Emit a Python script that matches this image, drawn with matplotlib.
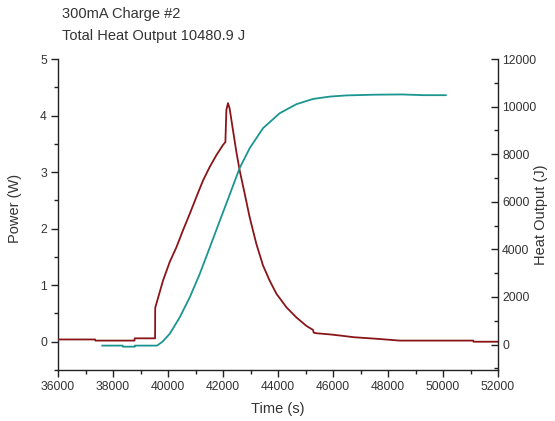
import matplotlib
matplotlib.use("Agg")
import matplotlib.pyplot as plt
from matplotlib.ticker import MultipleLocator

plt.rcParams['font.family'] = ['Liberation Sans', 'DejaVu Sans']

# Power curve (W) vs time (s)
power_t = [36000, 37350, 37360, 38780, 38790, 39530, 39535, 39647, 39818, 40062, 40305,
           40545, 40789, 41032, 41272, 41516, 41760, 42000, 42087, 42123, 42181,
           42243, 42363, 42485, 42606, 42788, 42970, 43213, 43454, 43697, 43941,
           44305, 44668, 45032, 45272, 45300, 45396, 45880, 46250, 46750, 47650,
           48420, 49190, 50000, 51100, 51110, 52000]
power_w = [0.04, 0.04, 0.02, 0.02, 0.06, 0.06, 0.60, 0.79, 1.08, 1.41, 1.67,
           1.97, 2.26, 2.56, 2.85, 3.09, 3.30, 3.48, 3.53, 4.10, 4.22,
           4.12, 3.74, 3.36, 3.03, 2.62, 2.20, 1.73, 1.35, 1.08, 0.85,
           0.61, 0.43, 0.28, 0.21, 0.16, 0.15, 0.13, 0.11, 0.08, 0.05,
           0.02, 0.02, 0.02, 0.02, 0.0, 0.0]

# Heat output (J) vs time (s)
heat_t = [37610, 38350, 38360, 38790, 38800, 39600, 39800, 40062, 40425, 40789, 41152,
          41516, 41880, 42243, 42606, 42970, 43454, 44060, 44668, 45272, 45880,
          46500, 47500, 48500, 49300, 50100]
heat_j = [-45, -45, -90, -90, -45, -45, 120, 450, 1140, 1980, 2960,
          4070, 5190, 6300, 7420, 8250, 9090, 9720, 10100, 10320, 10420,
          10470, 10500, 10510, 10480, 10480]

title_lines = ["300mA Charge #2", "Total Heat Output 10480.9 J"]
x_ticks = [36000, 38000, 40000, 42000, 44000, 46000, 48000, 50000, 52000]
left_ticks = [0, 1, 2, 3, 4, 5]
right_ticks = [0, 2000, 4000, 6000, 8000, 10000, 12000]

red = '#8a1519'
teal = '#1b9590'
txt = '#333333'

fig = plt.figure(figsize=(5.55, 4.21), dpi=100)
ax = fig.add_axes([58/555, 51/421, (498-58)/555, (370-59)/421])
ax2 = ax.twinx()

ax.plot(power_t, power_w, color=red, lw=1.3, zorder=3)
ax2.plot(heat_t, heat_j, color=teal, lw=1.3, zorder=2)

ax.set_xlim(36000, 52000)
ax.set_ylim(-0.5, 5)
ax2.set_ylim(-1070, 12000)

ax.set_xticks(x_ticks)
ax.set_xticklabels([str(v) for v in x_ticks])
ax.xaxis.set_minor_locator(MultipleLocator(1000))
ax.set_yticks(left_ticks)
ax.yaxis.set_minor_locator(MultipleLocator(0.5))
ax2.set_yticks(right_ticks)
ax2.yaxis.set_minor_locator(MultipleLocator(1000))

for a in (ax, ax2):
    a.spines['top'].set_visible(False)
    for s in a.spines.values():
        s.set_color('#222222')
        s.set_linewidth(1.0)
ax.spines['right'].set_visible(False)
ax2.spines['left'].set_visible(False)
ax2.spines['bottom'].set_visible(False)

ax.tick_params(axis='both', which='major', direction='out', length=5, width=1,
               labelsize=8.7, colors='#222222', labelcolor=txt, pad=3)
ax.tick_params(axis='both', which='minor', direction='out', length=3, width=1, colors='#222222')
ax2.tick_params(axis='y', which='major', direction='in', length=5, width=1,
                labelsize=8.7, colors='#222222', labelcolor=txt, pad=3)
ax2.tick_params(axis='y', which='minor', direction='in', length=3, width=1, colors='#222222')

ax.set_xlabel('Time (s)', fontsize=10.5, color=txt)
ax.set_ylabel('Power (W)', fontsize=10.5, color=txt)
ax2.set_ylabel('Heat Output (J)', fontsize=10.5, color=txt, rotation=90)
ax.xaxis.set_label_coords((278 - 58) / 440, (370 - 409) / 311)
ax.yaxis.set_label_coords((15 - 58) / 440, (370 - 208) / 311)
ax2.yaxis.set_label_coords((541 - 58) / 440, (370 - 215) / 311)
ax.xaxis.label.set_va('center')
ax.yaxis.label.set_va('center')
ax2.yaxis.label.set_va('center')

fig.text(62/555, 1 - 18/421, title_lines[0], fontsize=10.5, color=txt, va='baseline', ha='left')
fig.text(62/555, 1 - 40/421, title_lines[1], fontsize=10.5, color=txt, va='baseline', ha='left')

fig.savefig('out.png', dpi=100, facecolor='white')
